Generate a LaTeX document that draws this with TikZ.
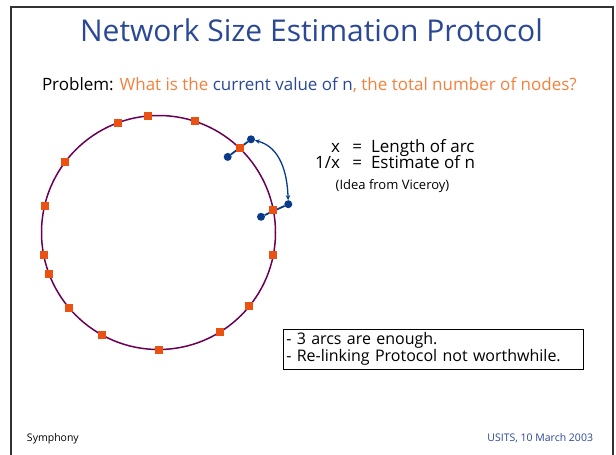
\documentclass[tikz,border=0pt]{standalone}
\usepackage{fontspec}
\setmainfont{Open Sans}
\usetikzlibrary{arrows.meta}
\definecolor{tblue}{RGB}{42,72,150}
\definecolor{torange}{RGB}{245,128,60}
\definecolor{sqorange}{RGB}{234,82,20}
\definecolor{ringpurple}{RGB}{105,0,85}
\definecolor{dotblue}{RGB}{8,58,140}
\definecolor{framegray}{RGB}{50,50,50}
\begin{document}
\begin{tikzpicture}[x=1pt,y=1pt,
  sq/.style={fill=sqorange, minimum size=8pt, inner sep=0pt, outer sep=0pt},
  bdot/.style={circle, fill=dotblue, minimum size=8pt, inner sep=0pt, outer sep=0pt},
  lbl/.style={inner sep=0pt, outer sep=0pt, anchor=base},
  body/.style={font=\fontsize{17}{19}\selectfont},
  bluelink/.style={draw=dotblue, line width=1.8pt}]
\useasboundingbox (0,0) rectangle (616,-455);
% slide frame
\draw[framegray, line width=2pt] (11,-455) -- (11,-7) -- (613,-7) -- (613,-455);
% title and problem
\node[lbl, text=tblue, font=\fontsize{30}{34}\selectfont] (title) at (311.5,-41) {Network Size Estimation Protocol};
\node[lbl, anchor=base west, body] (problem) at (42,-90)
  {Problem: \textcolor{torange}{What is the} \textcolor{tblue}{current value of n}\textcolor{torange}{, the total number of nodes?}};
% ring
\node[draw=ringpurple, line width=1.5pt, circle, minimum size=234pt, inner sep=0pt, outer sep=0pt] (ring) at (158.5,-232.5) {};
% blue estimate links
\node[bdot] (a1) at (227.7,-156.9) {};
\node[bdot] (a2) at (251,-139.3) {};
\node[bdot] (b1) at (261,-216.8) {};
\node[bdot] (b2) at (288.3,-204.2) {};
\draw[bluelink] (a1) -- (a2);
\draw[bluelink] (b1) -- (b2);
\draw[dotblue, line width=1.3pt, {Stealth[length=5pt,width=4.5pt]}-{Stealth[length=5pt,width=4.5pt]}]
  (a2) to[out=-15, in=92] (b2);
% nodes on the ring
\foreach \a [count=\i] in {95.5,110.2,72.8,143.4,46.2,167.6,11,191.4,-11.6,201.7,220.8,-39.2,241.8,-58.7,270}
  \node[sq] (s\i) at (ring.\a) {};
% definitions
\node[lbl, anchor=base east, body] (xl) at (340,-152) {x};
\node[lbl, body] (xe) at (357.3,-152) {=};
\node[lbl, anchor=base west, body] (xr) at (371,-152) {Length of arc};
\node[lbl, anchor=base east, body] (yl) at (340,-168) {1/x};
\node[lbl, body] (ye) at (357.3,-168) {=};
\node[lbl, anchor=base west, body] (yr) at (371,-168) {Estimate of n};
\node[lbl, font=\fontsize{13}{15}\selectfont] (idea) at (392.5,-189) {(Idea from Viceroy)};
% note box
\node[draw=black, line width=1.3pt, anchor=north west, minimum width=300pt, minimum height=40pt,
      text width=294pt, inner xsep=3pt, inner ysep=2pt, outer sep=0pt, align=left,
      font=\fontsize{16}{15.5}\selectfont] (note) at (283.3,-329.3)
  {- 3 arcs are enough.\\- Re-linking Protocol not worthwhile.};
% footer
\node[lbl, anchor=base west, font=\fontsize{10.5}{12}\selectfont] (foot1) at (27,-441) {Symphony};
\node[lbl, anchor=base east, text=tblue, font=\fontsize{10.5}{12}\selectfont] (foot2) at (593,-441) {USITS, 10 March 2003};
\end{tikzpicture}
\end{document}
